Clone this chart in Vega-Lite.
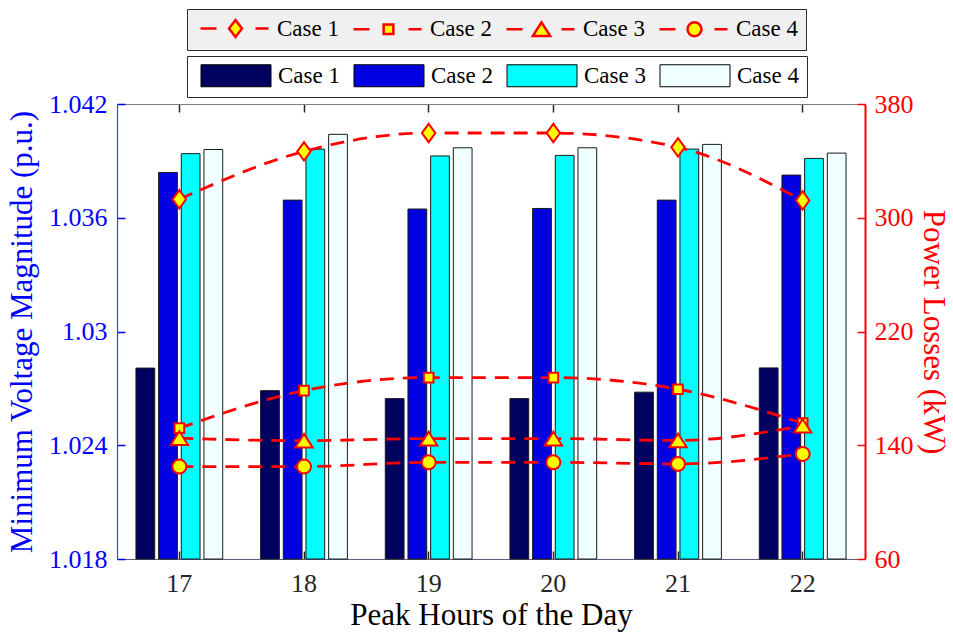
{
  "$schema": "https://vega.github.io/schema/vega-lite/v6.json",
  "width": 748,
  "height": 455,
  "autosize": {"type": "none"},
  "padding": {"left": 117, "top": 104, "right": 88, "bottom": 76},
  "background": "white",
  "config": {
    "view": {"stroke": null},
    "font": "Liberation Serif",
    "axis": {"grid": false, "labelFont": "Liberation Serif", "titleFont": "Liberation Serif", "titleFontWeight": "normal"},
    "legend": {"labelFont": "Liberation Serif", "labelFontSize": 23, "labelColor": "#000000", "titleFont": "Liberation Serif"}
  },
  "data": {
    "values": [
      {"hour": 17, "case": "Case 1", "voltage": 1.02807, "power": 313},
      {"hour": 18, "case": "Case 1", "voltage": 1.02688, "power": 346.7},
      {"hour": 19, "case": "Case 1", "voltage": 1.02646, "power": 359.6},
      {"hour": 20, "case": "Case 1", "voltage": 1.02646, "power": 359.6},
      {"hour": 21, "case": "Case 1", "voltage": 1.0268, "power": 349.5},
      {"hour": 22, "case": "Case 1", "voltage": 1.02808, "power": 312.2},
      {"hour": 17, "case": "Case 2", "voltage": 1.03839, "power": 152},
      {"hour": 18, "case": "Case 2", "voltage": 1.03693, "power": 178.4},
      {"hour": 19, "case": "Case 2", "voltage": 1.03646, "power": 187.6},
      {"hour": 20, "case": "Case 2", "voltage": 1.03649, "power": 187.6},
      {"hour": 21, "case": "Case 2", "voltage": 1.03693, "power": 179.4},
      {"hour": 22, "case": "Case 2", "voltage": 1.03825, "power": 155.5},
      {"hour": 17, "case": "Case 3", "voltage": 1.03938, "power": 145},
      {"hour": 18, "case": "Case 3", "voltage": 1.03962, "power": 143.2},
      {"hour": 19, "case": "Case 3", "voltage": 1.03926, "power": 144.7},
      {"hour": 20, "case": "Case 3", "voltage": 1.03929, "power": 144.7},
      {"hour": 21, "case": "Case 3", "voltage": 1.03962, "power": 143.4},
      {"hour": 22, "case": "Case 3", "voltage": 1.03913, "power": 153.7},
      {"hour": 17, "case": "Case 4", "voltage": 1.0396, "power": 125},
      {"hour": 18, "case": "Case 4", "voltage": 1.0404, "power": 125},
      {"hour": 19, "case": "Case 4", "voltage": 1.03969, "power": 128},
      {"hour": 20, "case": "Case 4", "voltage": 1.03969, "power": 128},
      {"hour": 21, "case": "Case 4", "voltage": 1.03987, "power": 126.9},
      {"hour": 22, "case": "Case 4", "voltage": 1.03941, "power": 133.9}
    ]
  },
  "layer": [
    {
      "mark": {"type": "bar", "stroke": "#1a1a1a", "strokeWidth": 1},
      "encoding": {
        "x": {
          "field": "hour", "type": "ordinal",
          "scale": {"paddingInner": 0.304, "paddingOuter": 0.152},
          "axis": {
            "orient": "bottom", "title": "Peak Hours of the Day", "titleFontSize": 31, "titleColor": "#000000", "titlePadding": 4,
            "labelFontSize": 26, "labelColor": "#262626", "labelAngle": 0, "labelPadding": 19,
            "tickSize": -8, "tickColor": "#262626", "tickWidth": 1.5, "domainColor": "#5a5a80", "domainWidth": 1.2
          }
        },
        "xOffset": {"field": "case", "type": "nominal", "scale": {"paddingInner": 0.173, "paddingOuter": 0}},
        "y": {
          "field": "voltage", "type": "quantitative",
          "scale": {"domain": [1.018, 1.042], "zero": false, "nice": false},
          "axis": {
            "orient": "left", "title": "Minimum Voltage Magnitude (p.u.)", "titleFontSize": 31, "titleColor": "#0000FF", "titlePadding": 10,
            "labelFontSize": 26, "labelColor": "#0000FF", "labelPadding": 18, "values": [1.018, 1.024, 1.03, 1.036, 1.042], "format": "~g",
            "tickSize": -8, "tickColor": "#0000FF", "tickWidth": 1.5, "domainColor": "#3d3dff", "domainWidth": 1.2
          }
        },
        "y2": {"datum": 1.018},
        "fill": {
          "field": "case", "type": "nominal",
          "scale": {"domain": ["Case 1", "Case 2", "Case 3", "Case 4"], "range": ["#000060", "#0000E0", "#00FFFF", "#F0FFFF"]},
          "legend": {
            "orient": "none", "legendX": 70, "legendY": -48, "direction": "horizontal", "columns": 4, "title": null,
            "labelFont": "Liberation Serif", "labelFontSize": 23,
            "symbolType": "M-1.1,-2.2H12.9V2.2H-1.1Z", "symbolSize": 100, "symbolStrokeColor": "#000000", "symbolStrokeWidth": 1,
            "labelOffset": 60, "columnPadding": 8, "padding": 8, "fillColor": "#FFFFFF", "strokeColor": "#2b2b2b"
          }
        }
      }
    },
    {
      "encoding": {
        "x": {
          "field": "hour", "type": "ordinal",
          "axis": {"orient": "top", "labels": false, "title": null, "tickSize": -8, "tickColor": "#262626", "tickWidth": 1.5, "domainColor": "#808080", "domainWidth": 1.2}
        },
        "y": {
          "field": "power", "type": "quantitative",
          "scale": {"domain": [60, 380], "zero": false, "nice": false},
          "axis": {
            "orient": "right", "title": "Power Losses (kW)", "titleFontSize": 31, "titleColor": "#FF0000", "titlePadding": 3,
            "labelFontSize": 26, "labelColor": "#FF0000", "labelPadding": 17, "values": [60, 140, 220, 300, 380],
            "tickSize": -8, "tickColor": "#FF0000", "tickWidth": 1.5, "domainColor": "#FF0000", "domainWidth": 2
          }
        }
      },
      "layer": [
        {
          "mark": {"type": "line", "color": "#FF0000", "strokeWidth": 2.8, "strokeDash": [14, 9], "interpolate": "monotone"},
          "encoding": {"detail": {"field": "case", "type": "nominal"}}
        },
        {
          "mark": {"type": "point", "filled": true, "fill": "#FFFF00", "stroke": "#FF0000", "strokeWidth": 2, "size": 100, "opacity": 1},
          "encoding": {
            "shape": {
              "field": "case", "type": "nominal",
              "scale": {
                "domain": ["Case 1", "Case 2", "Case 3", "Case 4"],
                "range": [
                  "M0,-1.84L1.34,0L0,1.84L-1.34,0Z",
                  "M-0.97,-0.97H0.97V0.97H-0.97Z",
                  "M0,-1.37L1.74,1.37L-1.74,1.37Z",
                  "M1.4,0A1.4,1.4,0,1,1,-1.4,0A1.4,1.4,0,1,1,1.4,0Z"
                ]
              },
              "legend": null
            }
          }
        },
        {
          "transform": [{"filter": "false"}],
          "mark": {"type": "point", "filled": true, "strokeWidth": 2.5, "size": 100, "opacity": 1},
          "encoding": {
            "shape": {
              "field": "case", "type": "nominal",
              "scale": {
                "domain": ["Case 1", "Case 2", "Case 3", "Case 4"],
                "range": [
                  "M-1.2,0H2M9.8,0H12.4M5.8,-1.7L7.1,0L5.8,1.7L4.5,0Z",
                  "M-1.2,0H2M9.8,0H12.4M4.83,-0.97H6.77V0.97H4.83Z",
                  "M-1.2,0H2M9.8,0H12.4M5.8,-1.37L7.54,1.37L4.06,1.37Z",
                  "M-1.2,0H2M9.8,0H12.4M7.2,0A1.4,1.4,0,1,1,4.4,0A1.4,1.4,0,1,1,7.2,0Z"
                ]
              },
              "legend": {
                "orient": "none", "legendX": 70, "legendY": -95, "direction": "horizontal", "columns": 4, "title": null,
                "labelFont": "Liberation Serif", "labelFontSize": 23,
                "symbolSize": 100, "symbolStrokeWidth": 2.5, "symbolOpacity": 1,
                "labelOffset": 59, "columnPadding": 9, "padding": 8, "fillColor": "#F0F0F0", "strokeColor": "#2b2b2b"
              }
            },
            "color": {
              "field": "case", "type": "nominal",
              "scale": {"domain": ["Case 1", "Case 2", "Case 3", "Case 4"], "range": ["#FFFF00", "#FFFF00", "#FFFF00", "#FFFF00"]}
            },
            "stroke": {
              "field": "case", "type": "nominal",
              "scale": {"domain": ["Case 1", "Case 2", "Case 3", "Case 4"], "range": ["#FF0000", "#FF0000", "#FF0000", "#FF0000"]}
            }
          }
        }
      ],
      "resolve": {"scale": {"shape": "independent", "color": "independent", "stroke": "independent"}}
    }
  ],
  "resolve": {"scale": {"y": "independent"}, "axis": {"x": "independent"}}
}
